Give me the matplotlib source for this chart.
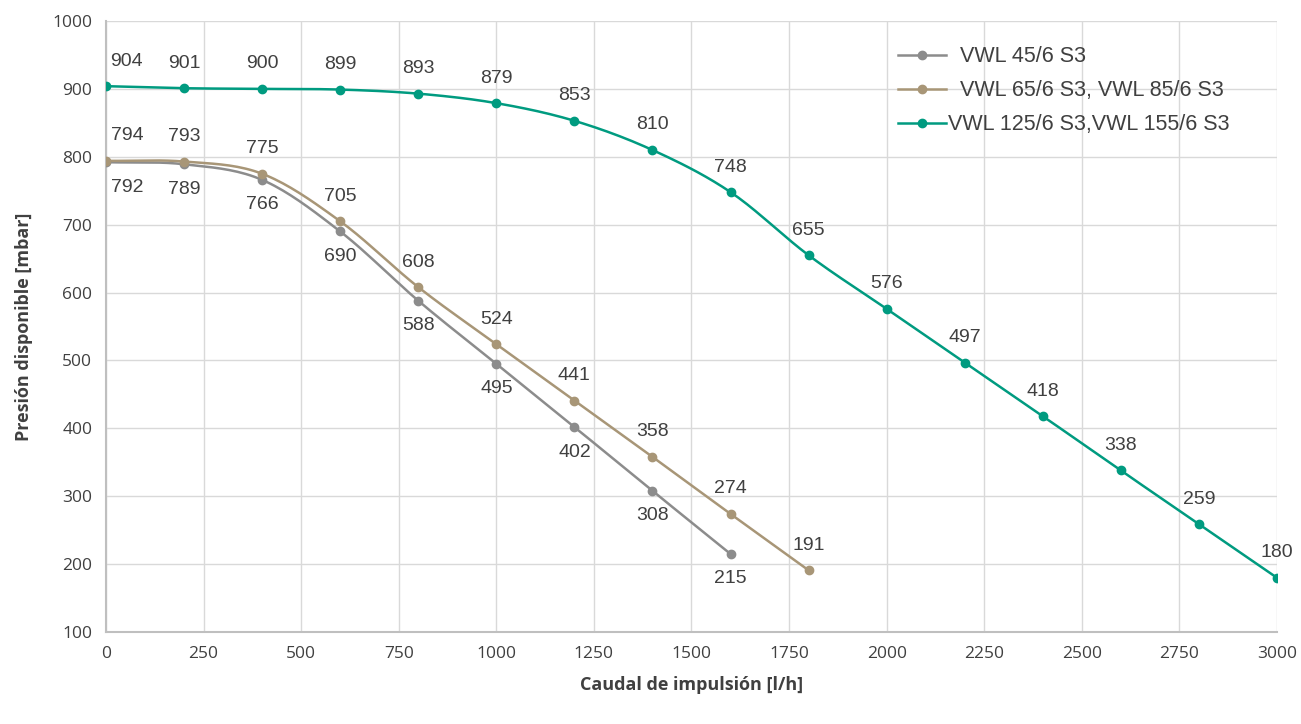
import matplotlib.pyplot as plt
import numpy as np

# data
caudal_a = [0, 200, 400, 600, 800, 1000, 1200, 1400, 1600]
presion_a = [792, 789, 766, 690, 588, 495, 402, 308, 215]

caudal_b = [0, 200, 400, 600, 800, 1000, 1200, 1400, 1600, 1800]
presion_b = [794, 793, 775, 705, 608, 524, 441, 358, 274, 191]

caudal_c = [0, 200, 400, 600, 800, 1000, 1200, 1400, 1600, 1800, 2000,
            2200, 2400, 2600, 2800, 3000]
presion_c = [904, 901, 900, 899, 893, 879, 853, 810, 748, 655, 576, 497,
             418, 338, 259, 180]

names = ['  VWL 45/6 S3', '  VWL 65/6 S3, VWL 85/6 S3', 'VWL 125/6 S3,VWL 155/6 S3']
colors = ['#8c8c8c', '#a89677', '#009b80']


# smooth line like excel (catmull-rom), only used for drawing the curve
def smooth(x, y, steps=20):
    x = np.asarray(x, float)
    y = np.asarray(y, float)
    px = np.concatenate(([2 * x[0] - x[1]], x, [2 * x[-1] - x[-2]]))
    py = np.concatenate(([2 * y[0] - y[1]], y, [2 * y[-1] - y[-2]]))
    xs, ys = [], []
    t = np.linspace(0, 1, steps)
    for i in range(1, len(px) - 2):
        for p, out in ((px, xs), (py, ys)):
            p0, p1, p2, p3 = p[i - 1], p[i], p[i + 1], p[i + 2]
            out.extend(0.5 * (2 * p1 + (-p0 + p2) * t
                              + (2 * p0 - 5 * p1 + 4 * p2 - p3) * t ** 2
                              + (-p0 + 3 * p1 - 3 * p2 + p3) * t ** 3))
    return xs, ys


fig = plt.figure(figsize=(13.01, 7.24), dpi=100)
ax = fig.add_axes([0.0815, 0.127, 0.9, 0.844])

series = [(caudal_a, presion_a, -1), (caudal_b, presion_b, 1), (caudal_c, presion_c, 1)]
for (x, y, side), name, col in zip(series, names, colors):
    sx, sy = smooth(x, y)
    ax.plot(sx, sy, color=col, lw=1.8, zorder=3)
    ax.plot(x, y, 'o', color=col, ms=6, zorder=4)
    ax.plot([], [], '-o', color=col, lw=1.8, ms=6, label=name)
    for i, (xi, yi) in enumerate(zip(x, y)):
        dx = 15 if i == 0 else 0
        ax.annotate(str(yi), (xi, yi), xytext=(dx, 18 * side), textcoords='offset points',
                    ha='center', va='center', fontsize=14, color='#404040',
                    family='Liberation Sans')

ax.set_xlim(0, 3000)
ax.set_ylim(100, 1000)
ax.set_xticks(np.arange(0, 3001, 250))
ax.set_yticks(np.arange(100, 1001, 100))
ax.grid(True, color='#d9d9d9', lw=1)
ax.set_axisbelow(True)
for s in ['top', 'right']:
    ax.spines[s].set_visible(False)
for s in ['left', 'bottom']:
    ax.spines[s].set_color('#bfbfbf')
    ax.spines[s].set_linewidth(1.5)
ax.tick_params(length=0, pad=10, labelsize=12.5, colors='#404040')
for lab in ax.get_xticklabels() + ax.get_yticklabels():
    lab.set_family('Open Sans')

ax.set_xlabel('Caudal de impulsión [l/h]', fontsize=13, fontweight='bold',
              color='#404040', family='Open Sans', labelpad=10)
ax.set_ylabel('Presión disponible [mbar]', fontsize=13, fontweight='bold',
              color='#404040', family='Open Sans', labelpad=14)

leg = ax.legend(loc='upper left', bbox_to_anchor=(0.66, 0.99), frameon=False,
                handlelength=2.2, handletextpad=0.1, labelspacing=0.6,
                prop={'family': 'Liberation Sans', 'size': 15.5})
for t in leg.get_texts():
    t.set_color('#404040')

fig.savefig('out.png', dpi=100)
